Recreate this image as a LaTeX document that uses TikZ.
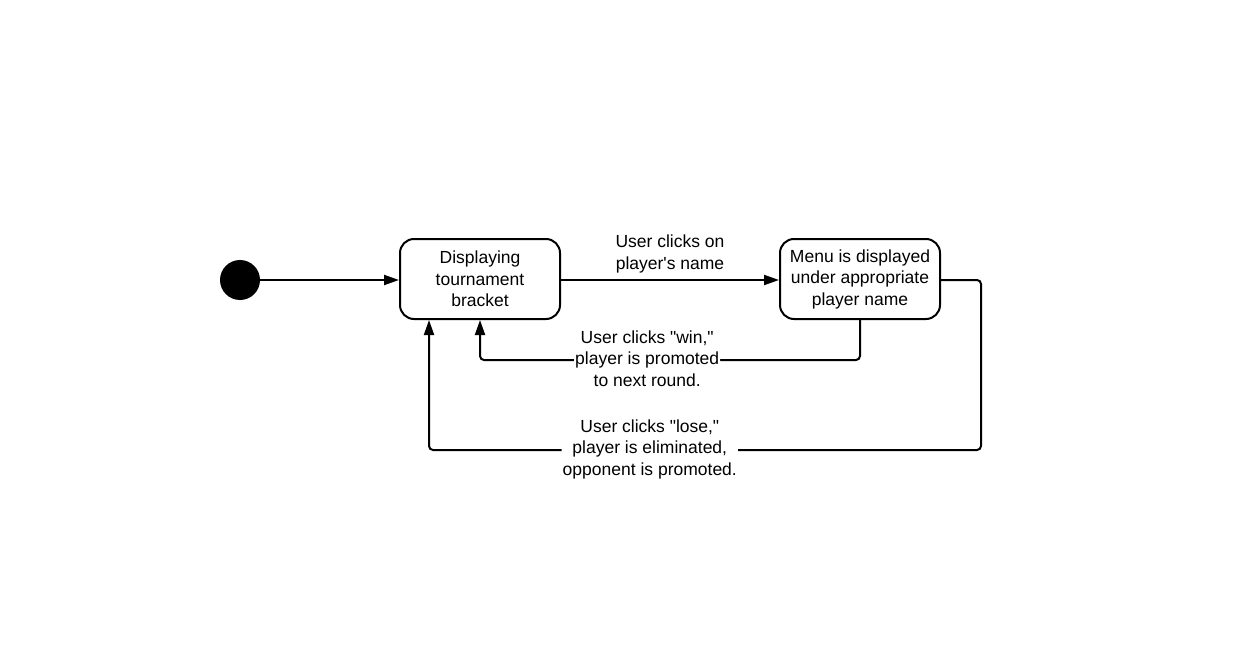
\documentclass[tikz,border=0pt]{standalone}
\usepackage{fontspec}
\setmainfont{Liberation Sans}
\usetikzlibrary{arrows.meta,calc}

\tikzset{
  state/.style={draw, line width=2pt, rounded corners=14pt, minimum width=160pt,
    minimum height=80pt, align=center, inner sep=0pt},
  trans/.style={line width=2pt, rounded corners=4pt, -{Triangle[length=15pt,width=10pt]}},
  lbl/.style={fill=white, align=center, inner xsep=1pt, inner ysep=2pt}
}

\begin{document}
\begin{tikzpicture}[x=1pt,y=-1pt,font=\fontsize{17.5}{21.5}\selectfont]
  \useasboundingbox (0,0) rectangle (1238,647);

  % Initial state and the two states
  \node[circle, fill=black, minimum size=40pt, inner sep=0pt] (start) at (240,280) {};
  \node[state] (bracket) at (480,279) {Displaying\\tournament\\bracket};
  \node[state] (menu) at (860,279) {Menu is displayed\\under appropriate\\player name};

  % Transitions
  \draw[trans] (start) -- (start -| bracket.west);
  \draw[trans] (start -| bracket.east) -- node[align=center, pos=0.5, yshift=26pt]
    {User clicks on\\player\textquotesingle s name} (start -| menu.west);

  \coordinate (winturn) at ($(menu.south)+(0,40)$);
  \draw[trans] (menu.south) -- (winturn)
    -- node[lbl, pos=0.56, yshift=1.5pt] {User clicks \textquotedbl win,\textquotedbl\\player is promoted\\to next round.}
       ($(bracket.south)+(0,40)$) -- (bracket.south);

  \coordinate (loseend) at ($(bracket.south west)+(30,0)$);
  \coordinate (loseturn) at ($(start -| menu.east)+(40,0)$);
  \draw[trans] (start -| menu.east) -- (loseturn) -- ++(0,170)
    -- node[lbl, pos=0.6, yshift=1pt] {User clicks \textquotedbl lose,\textquotedbl\\player is eliminated,\\opponent is promoted.}
       ($(loseend)+(0,130)$) -- (loseend);
\end{tikzpicture}
\end{document}
